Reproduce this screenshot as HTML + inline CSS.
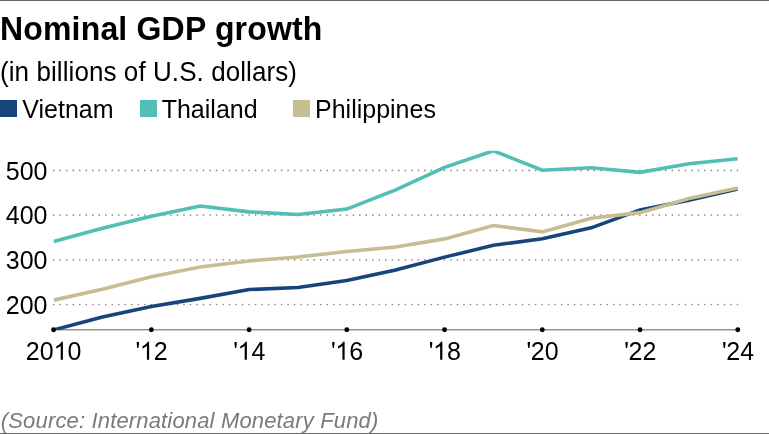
<!DOCTYPE html>
<html><head><meta charset="utf-8"><style>
html,body{margin:0;padding:0;background:#fff;}
body{width:769px;height:434px;overflow:hidden;position:relative;}
svg{position:absolute;left:0;top:0;will-change:transform;}
text{font-family:"Liberation Sans",sans-serif;}
</style></head><body>
<svg width="769" height="434" viewBox="0 0 769 434">
<defs><clipPath id="plot"><rect x="53.6" y="150.78" width="684.18" height="179.11"/></clipPath></defs>
<rect x="0" y="0" width="769" height="1" fill="#666666"/>
<rect x="0" y="433" width="769" height="1" fill="#666666"/>
<text transform="translate(0,40.2) scale(1,1.04)" x="0" y="0" text-anchor="start" style="font-size:32px;font-weight:bold;font-style:normal" fill="#000" textLength="322.4" lengthAdjust="spacing">Nominal GDP growth</text>

<text transform="translate(0,81.3) scale(1,1.04)" x="0" y="0" text-anchor="start" style="font-size:26px;font-weight:normal;font-style:normal" fill="#000" textLength="297" lengthAdjust="spacing">(in billions of U.S. dollars)</text>

<rect x="0" y="100" width="17" height="17" fill="#17457a"/>
<text transform="translate(22.3,118.3) scale(1,1.04)" x="0" y="0" text-anchor="start" style="font-size:25px;font-weight:normal;font-style:normal" fill="#000">Vietnam</text>

<rect x="140" y="100" width="17" height="17" fill="#52beb6"/>
<text transform="translate(161.7,118.3) scale(1,1.04)" x="0" y="0" text-anchor="start" style="font-size:25px;font-weight:normal;font-style:normal" fill="#000">Thailand</text>

<rect x="293" y="100" width="17" height="17" fill="#c6bd90"/>
<text transform="translate(315,118.3) scale(1,1.04)" x="0" y="0" text-anchor="start" style="font-size:25px;font-weight:normal;font-style:normal" fill="#000">Philippines</text>

<g fill="#8a8a8a">
<circle cx="53.70" cy="170.40" r="0.85"/><circle cx="60.21" cy="170.40" r="0.85"/><circle cx="66.72" cy="170.40" r="0.85"/><circle cx="73.24" cy="170.40" r="0.85"/><circle cx="79.75" cy="170.40" r="0.85"/><circle cx="86.26" cy="170.40" r="0.85"/><circle cx="92.77" cy="170.40" r="0.85"/><circle cx="99.29" cy="170.40" r="0.85"/><circle cx="105.80" cy="170.40" r="0.85"/><circle cx="112.31" cy="170.40" r="0.85"/><circle cx="118.82" cy="170.40" r="0.85"/><circle cx="125.34" cy="170.40" r="0.85"/><circle cx="131.85" cy="170.40" r="0.85"/><circle cx="138.36" cy="170.40" r="0.85"/><circle cx="144.87" cy="170.40" r="0.85"/><circle cx="151.39" cy="170.40" r="0.85"/><circle cx="157.90" cy="170.40" r="0.85"/><circle cx="164.41" cy="170.40" r="0.85"/><circle cx="170.92" cy="170.40" r="0.85"/><circle cx="177.44" cy="170.40" r="0.85"/><circle cx="183.95" cy="170.40" r="0.85"/><circle cx="190.46" cy="170.40" r="0.85"/><circle cx="196.97" cy="170.40" r="0.85"/><circle cx="203.48" cy="170.40" r="0.85"/><circle cx="210.00" cy="170.40" r="0.85"/><circle cx="216.51" cy="170.40" r="0.85"/><circle cx="223.02" cy="170.40" r="0.85"/><circle cx="229.53" cy="170.40" r="0.85"/><circle cx="236.05" cy="170.40" r="0.85"/><circle cx="242.56" cy="170.40" r="0.85"/><circle cx="249.07" cy="170.40" r="0.85"/><circle cx="255.58" cy="170.40" r="0.85"/><circle cx="262.10" cy="170.40" r="0.85"/><circle cx="268.61" cy="170.40" r="0.85"/><circle cx="275.12" cy="170.40" r="0.85"/><circle cx="281.63" cy="170.40" r="0.85"/><circle cx="288.15" cy="170.40" r="0.85"/><circle cx="294.66" cy="170.40" r="0.85"/><circle cx="301.17" cy="170.40" r="0.85"/><circle cx="307.68" cy="170.40" r="0.85"/><circle cx="314.20" cy="170.40" r="0.85"/><circle cx="320.71" cy="170.40" r="0.85"/><circle cx="327.22" cy="170.40" r="0.85"/><circle cx="333.73" cy="170.40" r="0.85"/><circle cx="340.24" cy="170.40" r="0.85"/><circle cx="346.76" cy="170.40" r="0.85"/><circle cx="353.27" cy="170.40" r="0.85"/><circle cx="359.78" cy="170.40" r="0.85"/><circle cx="366.29" cy="170.40" r="0.85"/><circle cx="372.81" cy="170.40" r="0.85"/><circle cx="379.32" cy="170.40" r="0.85"/><circle cx="385.83" cy="170.40" r="0.85"/><circle cx="392.34" cy="170.40" r="0.85"/><circle cx="398.86" cy="170.40" r="0.85"/><circle cx="405.37" cy="170.40" r="0.85"/><circle cx="411.88" cy="170.40" r="0.85"/><circle cx="418.39" cy="170.40" r="0.85"/><circle cx="424.91" cy="170.40" r="0.85"/><circle cx="431.42" cy="170.40" r="0.85"/><circle cx="437.93" cy="170.40" r="0.85"/><circle cx="444.44" cy="170.40" r="0.85"/><circle cx="450.96" cy="170.40" r="0.85"/><circle cx="457.47" cy="170.40" r="0.85"/><circle cx="463.98" cy="170.40" r="0.85"/><circle cx="470.49" cy="170.40" r="0.85"/><circle cx="477.00" cy="170.40" r="0.85"/><circle cx="483.52" cy="170.40" r="0.85"/><circle cx="490.03" cy="170.40" r="0.85"/><circle cx="496.54" cy="170.40" r="0.85"/><circle cx="503.05" cy="170.40" r="0.85"/><circle cx="509.57" cy="170.40" r="0.85"/><circle cx="516.08" cy="170.40" r="0.85"/><circle cx="522.59" cy="170.40" r="0.85"/><circle cx="529.10" cy="170.40" r="0.85"/><circle cx="535.62" cy="170.40" r="0.85"/><circle cx="542.13" cy="170.40" r="0.85"/><circle cx="548.64" cy="170.40" r="0.85"/><circle cx="555.15" cy="170.40" r="0.85"/><circle cx="561.67" cy="170.40" r="0.85"/><circle cx="568.18" cy="170.40" r="0.85"/><circle cx="574.69" cy="170.40" r="0.85"/><circle cx="581.20" cy="170.40" r="0.85"/><circle cx="587.72" cy="170.40" r="0.85"/><circle cx="594.23" cy="170.40" r="0.85"/><circle cx="600.74" cy="170.40" r="0.85"/><circle cx="607.25" cy="170.40" r="0.85"/><circle cx="613.76" cy="170.40" r="0.85"/><circle cx="620.28" cy="170.40" r="0.85"/><circle cx="626.79" cy="170.40" r="0.85"/><circle cx="633.30" cy="170.40" r="0.85"/><circle cx="639.81" cy="170.40" r="0.85"/><circle cx="646.33" cy="170.40" r="0.85"/><circle cx="652.84" cy="170.40" r="0.85"/><circle cx="659.35" cy="170.40" r="0.85"/><circle cx="665.86" cy="170.40" r="0.85"/><circle cx="672.38" cy="170.40" r="0.85"/><circle cx="678.89" cy="170.40" r="0.85"/><circle cx="685.40" cy="170.40" r="0.85"/><circle cx="691.91" cy="170.40" r="0.85"/><circle cx="698.43" cy="170.40" r="0.85"/><circle cx="704.94" cy="170.40" r="0.85"/><circle cx="711.45" cy="170.40" r="0.85"/><circle cx="717.96" cy="170.40" r="0.85"/><circle cx="724.48" cy="170.40" r="0.85"/><circle cx="730.99" cy="170.40" r="0.85"/><circle cx="737.50" cy="170.40" r="0.85"/>
<circle cx="53.70" cy="215.10" r="0.85"/><circle cx="60.21" cy="215.10" r="0.85"/><circle cx="66.72" cy="215.10" r="0.85"/><circle cx="73.24" cy="215.10" r="0.85"/><circle cx="79.75" cy="215.10" r="0.85"/><circle cx="86.26" cy="215.10" r="0.85"/><circle cx="92.77" cy="215.10" r="0.85"/><circle cx="99.29" cy="215.10" r="0.85"/><circle cx="105.80" cy="215.10" r="0.85"/><circle cx="112.31" cy="215.10" r="0.85"/><circle cx="118.82" cy="215.10" r="0.85"/><circle cx="125.34" cy="215.10" r="0.85"/><circle cx="131.85" cy="215.10" r="0.85"/><circle cx="138.36" cy="215.10" r="0.85"/><circle cx="144.87" cy="215.10" r="0.85"/><circle cx="151.39" cy="215.10" r="0.85"/><circle cx="157.90" cy="215.10" r="0.85"/><circle cx="164.41" cy="215.10" r="0.85"/><circle cx="170.92" cy="215.10" r="0.85"/><circle cx="177.44" cy="215.10" r="0.85"/><circle cx="183.95" cy="215.10" r="0.85"/><circle cx="190.46" cy="215.10" r="0.85"/><circle cx="196.97" cy="215.10" r="0.85"/><circle cx="203.48" cy="215.10" r="0.85"/><circle cx="210.00" cy="215.10" r="0.85"/><circle cx="216.51" cy="215.10" r="0.85"/><circle cx="223.02" cy="215.10" r="0.85"/><circle cx="229.53" cy="215.10" r="0.85"/><circle cx="236.05" cy="215.10" r="0.85"/><circle cx="242.56" cy="215.10" r="0.85"/><circle cx="249.07" cy="215.10" r="0.85"/><circle cx="255.58" cy="215.10" r="0.85"/><circle cx="262.10" cy="215.10" r="0.85"/><circle cx="268.61" cy="215.10" r="0.85"/><circle cx="275.12" cy="215.10" r="0.85"/><circle cx="281.63" cy="215.10" r="0.85"/><circle cx="288.15" cy="215.10" r="0.85"/><circle cx="294.66" cy="215.10" r="0.85"/><circle cx="301.17" cy="215.10" r="0.85"/><circle cx="307.68" cy="215.10" r="0.85"/><circle cx="314.20" cy="215.10" r="0.85"/><circle cx="320.71" cy="215.10" r="0.85"/><circle cx="327.22" cy="215.10" r="0.85"/><circle cx="333.73" cy="215.10" r="0.85"/><circle cx="340.24" cy="215.10" r="0.85"/><circle cx="346.76" cy="215.10" r="0.85"/><circle cx="353.27" cy="215.10" r="0.85"/><circle cx="359.78" cy="215.10" r="0.85"/><circle cx="366.29" cy="215.10" r="0.85"/><circle cx="372.81" cy="215.10" r="0.85"/><circle cx="379.32" cy="215.10" r="0.85"/><circle cx="385.83" cy="215.10" r="0.85"/><circle cx="392.34" cy="215.10" r="0.85"/><circle cx="398.86" cy="215.10" r="0.85"/><circle cx="405.37" cy="215.10" r="0.85"/><circle cx="411.88" cy="215.10" r="0.85"/><circle cx="418.39" cy="215.10" r="0.85"/><circle cx="424.91" cy="215.10" r="0.85"/><circle cx="431.42" cy="215.10" r="0.85"/><circle cx="437.93" cy="215.10" r="0.85"/><circle cx="444.44" cy="215.10" r="0.85"/><circle cx="450.96" cy="215.10" r="0.85"/><circle cx="457.47" cy="215.10" r="0.85"/><circle cx="463.98" cy="215.10" r="0.85"/><circle cx="470.49" cy="215.10" r="0.85"/><circle cx="477.00" cy="215.10" r="0.85"/><circle cx="483.52" cy="215.10" r="0.85"/><circle cx="490.03" cy="215.10" r="0.85"/><circle cx="496.54" cy="215.10" r="0.85"/><circle cx="503.05" cy="215.10" r="0.85"/><circle cx="509.57" cy="215.10" r="0.85"/><circle cx="516.08" cy="215.10" r="0.85"/><circle cx="522.59" cy="215.10" r="0.85"/><circle cx="529.10" cy="215.10" r="0.85"/><circle cx="535.62" cy="215.10" r="0.85"/><circle cx="542.13" cy="215.10" r="0.85"/><circle cx="548.64" cy="215.10" r="0.85"/><circle cx="555.15" cy="215.10" r="0.85"/><circle cx="561.67" cy="215.10" r="0.85"/><circle cx="568.18" cy="215.10" r="0.85"/><circle cx="574.69" cy="215.10" r="0.85"/><circle cx="581.20" cy="215.10" r="0.85"/><circle cx="587.72" cy="215.10" r="0.85"/><circle cx="594.23" cy="215.10" r="0.85"/><circle cx="600.74" cy="215.10" r="0.85"/><circle cx="607.25" cy="215.10" r="0.85"/><circle cx="613.76" cy="215.10" r="0.85"/><circle cx="620.28" cy="215.10" r="0.85"/><circle cx="626.79" cy="215.10" r="0.85"/><circle cx="633.30" cy="215.10" r="0.85"/><circle cx="639.81" cy="215.10" r="0.85"/><circle cx="646.33" cy="215.10" r="0.85"/><circle cx="652.84" cy="215.10" r="0.85"/><circle cx="659.35" cy="215.10" r="0.85"/><circle cx="665.86" cy="215.10" r="0.85"/><circle cx="672.38" cy="215.10" r="0.85"/><circle cx="678.89" cy="215.10" r="0.85"/><circle cx="685.40" cy="215.10" r="0.85"/><circle cx="691.91" cy="215.10" r="0.85"/><circle cx="698.43" cy="215.10" r="0.85"/><circle cx="704.94" cy="215.10" r="0.85"/><circle cx="711.45" cy="215.10" r="0.85"/><circle cx="717.96" cy="215.10" r="0.85"/><circle cx="724.48" cy="215.10" r="0.85"/><circle cx="730.99" cy="215.10" r="0.85"/><circle cx="737.50" cy="215.10" r="0.85"/>
<circle cx="53.70" cy="259.80" r="0.85"/><circle cx="60.21" cy="259.80" r="0.85"/><circle cx="66.72" cy="259.80" r="0.85"/><circle cx="73.24" cy="259.80" r="0.85"/><circle cx="79.75" cy="259.80" r="0.85"/><circle cx="86.26" cy="259.80" r="0.85"/><circle cx="92.77" cy="259.80" r="0.85"/><circle cx="99.29" cy="259.80" r="0.85"/><circle cx="105.80" cy="259.80" r="0.85"/><circle cx="112.31" cy="259.80" r="0.85"/><circle cx="118.82" cy="259.80" r="0.85"/><circle cx="125.34" cy="259.80" r="0.85"/><circle cx="131.85" cy="259.80" r="0.85"/><circle cx="138.36" cy="259.80" r="0.85"/><circle cx="144.87" cy="259.80" r="0.85"/><circle cx="151.39" cy="259.80" r="0.85"/><circle cx="157.90" cy="259.80" r="0.85"/><circle cx="164.41" cy="259.80" r="0.85"/><circle cx="170.92" cy="259.80" r="0.85"/><circle cx="177.44" cy="259.80" r="0.85"/><circle cx="183.95" cy="259.80" r="0.85"/><circle cx="190.46" cy="259.80" r="0.85"/><circle cx="196.97" cy="259.80" r="0.85"/><circle cx="203.48" cy="259.80" r="0.85"/><circle cx="210.00" cy="259.80" r="0.85"/><circle cx="216.51" cy="259.80" r="0.85"/><circle cx="223.02" cy="259.80" r="0.85"/><circle cx="229.53" cy="259.80" r="0.85"/><circle cx="236.05" cy="259.80" r="0.85"/><circle cx="242.56" cy="259.80" r="0.85"/><circle cx="249.07" cy="259.80" r="0.85"/><circle cx="255.58" cy="259.80" r="0.85"/><circle cx="262.10" cy="259.80" r="0.85"/><circle cx="268.61" cy="259.80" r="0.85"/><circle cx="275.12" cy="259.80" r="0.85"/><circle cx="281.63" cy="259.80" r="0.85"/><circle cx="288.15" cy="259.80" r="0.85"/><circle cx="294.66" cy="259.80" r="0.85"/><circle cx="301.17" cy="259.80" r="0.85"/><circle cx="307.68" cy="259.80" r="0.85"/><circle cx="314.20" cy="259.80" r="0.85"/><circle cx="320.71" cy="259.80" r="0.85"/><circle cx="327.22" cy="259.80" r="0.85"/><circle cx="333.73" cy="259.80" r="0.85"/><circle cx="340.24" cy="259.80" r="0.85"/><circle cx="346.76" cy="259.80" r="0.85"/><circle cx="353.27" cy="259.80" r="0.85"/><circle cx="359.78" cy="259.80" r="0.85"/><circle cx="366.29" cy="259.80" r="0.85"/><circle cx="372.81" cy="259.80" r="0.85"/><circle cx="379.32" cy="259.80" r="0.85"/><circle cx="385.83" cy="259.80" r="0.85"/><circle cx="392.34" cy="259.80" r="0.85"/><circle cx="398.86" cy="259.80" r="0.85"/><circle cx="405.37" cy="259.80" r="0.85"/><circle cx="411.88" cy="259.80" r="0.85"/><circle cx="418.39" cy="259.80" r="0.85"/><circle cx="424.91" cy="259.80" r="0.85"/><circle cx="431.42" cy="259.80" r="0.85"/><circle cx="437.93" cy="259.80" r="0.85"/><circle cx="444.44" cy="259.80" r="0.85"/><circle cx="450.96" cy="259.80" r="0.85"/><circle cx="457.47" cy="259.80" r="0.85"/><circle cx="463.98" cy="259.80" r="0.85"/><circle cx="470.49" cy="259.80" r="0.85"/><circle cx="477.00" cy="259.80" r="0.85"/><circle cx="483.52" cy="259.80" r="0.85"/><circle cx="490.03" cy="259.80" r="0.85"/><circle cx="496.54" cy="259.80" r="0.85"/><circle cx="503.05" cy="259.80" r="0.85"/><circle cx="509.57" cy="259.80" r="0.85"/><circle cx="516.08" cy="259.80" r="0.85"/><circle cx="522.59" cy="259.80" r="0.85"/><circle cx="529.10" cy="259.80" r="0.85"/><circle cx="535.62" cy="259.80" r="0.85"/><circle cx="542.13" cy="259.80" r="0.85"/><circle cx="548.64" cy="259.80" r="0.85"/><circle cx="555.15" cy="259.80" r="0.85"/><circle cx="561.67" cy="259.80" r="0.85"/><circle cx="568.18" cy="259.80" r="0.85"/><circle cx="574.69" cy="259.80" r="0.85"/><circle cx="581.20" cy="259.80" r="0.85"/><circle cx="587.72" cy="259.80" r="0.85"/><circle cx="594.23" cy="259.80" r="0.85"/><circle cx="600.74" cy="259.80" r="0.85"/><circle cx="607.25" cy="259.80" r="0.85"/><circle cx="613.76" cy="259.80" r="0.85"/><circle cx="620.28" cy="259.80" r="0.85"/><circle cx="626.79" cy="259.80" r="0.85"/><circle cx="633.30" cy="259.80" r="0.85"/><circle cx="639.81" cy="259.80" r="0.85"/><circle cx="646.33" cy="259.80" r="0.85"/><circle cx="652.84" cy="259.80" r="0.85"/><circle cx="659.35" cy="259.80" r="0.85"/><circle cx="665.86" cy="259.80" r="0.85"/><circle cx="672.38" cy="259.80" r="0.85"/><circle cx="678.89" cy="259.80" r="0.85"/><circle cx="685.40" cy="259.80" r="0.85"/><circle cx="691.91" cy="259.80" r="0.85"/><circle cx="698.43" cy="259.80" r="0.85"/><circle cx="704.94" cy="259.80" r="0.85"/><circle cx="711.45" cy="259.80" r="0.85"/><circle cx="717.96" cy="259.80" r="0.85"/><circle cx="724.48" cy="259.80" r="0.85"/><circle cx="730.99" cy="259.80" r="0.85"/><circle cx="737.50" cy="259.80" r="0.85"/>
<circle cx="53.70" cy="304.50" r="0.85"/><circle cx="60.21" cy="304.50" r="0.85"/><circle cx="66.72" cy="304.50" r="0.85"/><circle cx="73.24" cy="304.50" r="0.85"/><circle cx="79.75" cy="304.50" r="0.85"/><circle cx="86.26" cy="304.50" r="0.85"/><circle cx="92.77" cy="304.50" r="0.85"/><circle cx="99.29" cy="304.50" r="0.85"/><circle cx="105.80" cy="304.50" r="0.85"/><circle cx="112.31" cy="304.50" r="0.85"/><circle cx="118.82" cy="304.50" r="0.85"/><circle cx="125.34" cy="304.50" r="0.85"/><circle cx="131.85" cy="304.50" r="0.85"/><circle cx="138.36" cy="304.50" r="0.85"/><circle cx="144.87" cy="304.50" r="0.85"/><circle cx="151.39" cy="304.50" r="0.85"/><circle cx="157.90" cy="304.50" r="0.85"/><circle cx="164.41" cy="304.50" r="0.85"/><circle cx="170.92" cy="304.50" r="0.85"/><circle cx="177.44" cy="304.50" r="0.85"/><circle cx="183.95" cy="304.50" r="0.85"/><circle cx="190.46" cy="304.50" r="0.85"/><circle cx="196.97" cy="304.50" r="0.85"/><circle cx="203.48" cy="304.50" r="0.85"/><circle cx="210.00" cy="304.50" r="0.85"/><circle cx="216.51" cy="304.50" r="0.85"/><circle cx="223.02" cy="304.50" r="0.85"/><circle cx="229.53" cy="304.50" r="0.85"/><circle cx="236.05" cy="304.50" r="0.85"/><circle cx="242.56" cy="304.50" r="0.85"/><circle cx="249.07" cy="304.50" r="0.85"/><circle cx="255.58" cy="304.50" r="0.85"/><circle cx="262.10" cy="304.50" r="0.85"/><circle cx="268.61" cy="304.50" r="0.85"/><circle cx="275.12" cy="304.50" r="0.85"/><circle cx="281.63" cy="304.50" r="0.85"/><circle cx="288.15" cy="304.50" r="0.85"/><circle cx="294.66" cy="304.50" r="0.85"/><circle cx="301.17" cy="304.50" r="0.85"/><circle cx="307.68" cy="304.50" r="0.85"/><circle cx="314.20" cy="304.50" r="0.85"/><circle cx="320.71" cy="304.50" r="0.85"/><circle cx="327.22" cy="304.50" r="0.85"/><circle cx="333.73" cy="304.50" r="0.85"/><circle cx="340.24" cy="304.50" r="0.85"/><circle cx="346.76" cy="304.50" r="0.85"/><circle cx="353.27" cy="304.50" r="0.85"/><circle cx="359.78" cy="304.50" r="0.85"/><circle cx="366.29" cy="304.50" r="0.85"/><circle cx="372.81" cy="304.50" r="0.85"/><circle cx="379.32" cy="304.50" r="0.85"/><circle cx="385.83" cy="304.50" r="0.85"/><circle cx="392.34" cy="304.50" r="0.85"/><circle cx="398.86" cy="304.50" r="0.85"/><circle cx="405.37" cy="304.50" r="0.85"/><circle cx="411.88" cy="304.50" r="0.85"/><circle cx="418.39" cy="304.50" r="0.85"/><circle cx="424.91" cy="304.50" r="0.85"/><circle cx="431.42" cy="304.50" r="0.85"/><circle cx="437.93" cy="304.50" r="0.85"/><circle cx="444.44" cy="304.50" r="0.85"/><circle cx="450.96" cy="304.50" r="0.85"/><circle cx="457.47" cy="304.50" r="0.85"/><circle cx="463.98" cy="304.50" r="0.85"/><circle cx="470.49" cy="304.50" r="0.85"/><circle cx="477.00" cy="304.50" r="0.85"/><circle cx="483.52" cy="304.50" r="0.85"/><circle cx="490.03" cy="304.50" r="0.85"/><circle cx="496.54" cy="304.50" r="0.85"/><circle cx="503.05" cy="304.50" r="0.85"/><circle cx="509.57" cy="304.50" r="0.85"/><circle cx="516.08" cy="304.50" r="0.85"/><circle cx="522.59" cy="304.50" r="0.85"/><circle cx="529.10" cy="304.50" r="0.85"/><circle cx="535.62" cy="304.50" r="0.85"/><circle cx="542.13" cy="304.50" r="0.85"/><circle cx="548.64" cy="304.50" r="0.85"/><circle cx="555.15" cy="304.50" r="0.85"/><circle cx="561.67" cy="304.50" r="0.85"/><circle cx="568.18" cy="304.50" r="0.85"/><circle cx="574.69" cy="304.50" r="0.85"/><circle cx="581.20" cy="304.50" r="0.85"/><circle cx="587.72" cy="304.50" r="0.85"/><circle cx="594.23" cy="304.50" r="0.85"/><circle cx="600.74" cy="304.50" r="0.85"/><circle cx="607.25" cy="304.50" r="0.85"/><circle cx="613.76" cy="304.50" r="0.85"/><circle cx="620.28" cy="304.50" r="0.85"/><circle cx="626.79" cy="304.50" r="0.85"/><circle cx="633.30" cy="304.50" r="0.85"/><circle cx="639.81" cy="304.50" r="0.85"/><circle cx="646.33" cy="304.50" r="0.85"/><circle cx="652.84" cy="304.50" r="0.85"/><circle cx="659.35" cy="304.50" r="0.85"/><circle cx="665.86" cy="304.50" r="0.85"/><circle cx="672.38" cy="304.50" r="0.85"/><circle cx="678.89" cy="304.50" r="0.85"/><circle cx="685.40" cy="304.50" r="0.85"/><circle cx="691.91" cy="304.50" r="0.85"/><circle cx="698.43" cy="304.50" r="0.85"/><circle cx="704.94" cy="304.50" r="0.85"/><circle cx="711.45" cy="304.50" r="0.85"/><circle cx="717.96" cy="304.50" r="0.85"/><circle cx="724.48" cy="304.50" r="0.85"/><circle cx="730.99" cy="304.50" r="0.85"/><circle cx="737.50" cy="304.50" r="0.85"/>
</g>
<text transform="translate(47.5,179.6) scale(1,1.04)" x="0" y="0" text-anchor="end" style="font-size:25px;font-weight:normal;font-style:normal" fill="#000">500</text>
<text transform="translate(47.5,224.3) scale(1,1.04)" x="0" y="0" text-anchor="end" style="font-size:25px;font-weight:normal;font-style:normal" fill="#000">400</text>
<text transform="translate(47.5,269.0) scale(1,1.04)" x="0" y="0" text-anchor="end" style="font-size:25px;font-weight:normal;font-style:normal" fill="#000">300</text>
<text transform="translate(47.5,313.7) scale(1,1.04)" x="0" y="0" text-anchor="end" style="font-size:25px;font-weight:normal;font-style:normal" fill="#000">200</text>

<line x1="53.60" y1="329.8" x2="737.78" y2="329.8" stroke="#939393" stroke-width="1.4"/>
<g clip-path="url(#plot)" fill="none" stroke-width="3.6" stroke-linejoin="miter">
<polyline points="53.60,241.43 102.47,228.15 151.34,216.17 200.21,206.03 249.08,211.84 297.95,214.52 346.82,209.11 395.69,189.89 444.56,167.36 493.43,150.78 542.30,170.18 591.17,167.72 640.04,172.37 688.91,163.74 737.78,158.69" stroke="#52beb6"/>
<polyline points="53.60,329.89 102.47,317.11 151.34,306.47 200.21,298.38 249.08,289.53 297.95,287.51 346.82,280.50 395.69,269.99 444.56,257.12 493.43,245.27 542.30,238.70 591.17,227.84 640.04,209.91 688.91,200.30 737.78,189.00" stroke="#17457a"/>
<polyline points="53.60,300.12 102.47,289.21 151.34,276.83 200.21,267.00 249.08,260.92 297.95,256.94 346.82,251.49 395.69,247.06 444.56,238.88 493.43,225.47 542.30,231.86 591.17,218.23 640.04,212.64 688.91,198.43 737.78,187.92" stroke="#c6bd90"/>
</g>
<circle cx="53.60" cy="329.75" r="2.45" fill="#000"/>
<circle cx="151.34" cy="329.75" r="2.45" fill="#000"/>
<circle cx="249.08" cy="329.75" r="2.45" fill="#000"/>
<circle cx="346.82" cy="329.75" r="2.45" fill="#000"/>
<circle cx="444.56" cy="329.75" r="2.45" fill="#000"/>
<circle cx="542.30" cy="329.75" r="2.45" fill="#000"/>
<circle cx="640.04" cy="329.75" r="2.45" fill="#000"/>
<circle cx="737.78" cy="329.75" r="2.45" fill="#000"/>

<text transform="translate(25.79,359.6) scale(1,1.04)" x="0" y="0" text-anchor="start" style="font-size:25px;font-weight:normal;font-style:normal" fill="#000">2</text>
<text transform="translate(39.7,359.6) scale(1,1.04)" x="0" y="0" text-anchor="start" style="font-size:25px;font-weight:normal;font-style:normal" fill="#000">0</text>
<text transform="translate(67.5,359.6) scale(1,1.04)" x="0" y="0" text-anchor="start" style="font-size:25px;font-weight:normal;font-style:normal" fill="#000">0</text>
<path d="M62.91,359.80 L60.72,359.80 L60.72,345.80 L60.19,346.30 L59.46,346.81 L58.63,347.31 L57.75,347.81 L56.96,348.18 L56.30,348.45 L56.30,346.32 L57.26,345.86 L58.14,345.33 L58.91,344.76 L59.52,344.22 L60.19,343.56 L60.80,342.83 L61.23,342.22 L61.47,341.83 L62.91,341.83 Z" fill="#000"/>
<text transform="translate(153.73,359.6) scale(1,1.04)" x="0" y="0" text-anchor="start" style="font-size:25px;font-weight:normal;font-style:normal" fill="#000">2</text>
<path d="M136.73,341.90 L139.01,341.90 L139.01,343.80 L138.49,348.08 L137.26,348.08 L136.73,343.80 Z M149.14,359.80 L146.94,359.80 L146.94,345.80 L146.41,346.30 L145.68,346.81 L144.85,347.31 L143.97,347.81 L143.18,348.18 L142.52,348.45 L142.52,346.32 L143.48,345.86 L144.36,345.33 L145.13,344.76 L145.74,344.22 L146.41,343.56 L147.02,342.83 L147.45,342.22 L147.70,341.83 L149.14,341.83 Z" fill="#000"/>
<text transform="translate(251.47,359.6) scale(1,1.04)" x="0" y="0" text-anchor="start" style="font-size:25px;font-weight:normal;font-style:normal" fill="#000">4</text>
<path d="M234.47,341.90 L236.75,341.90 L236.75,343.80 L236.23,348.08 L235.00,348.08 L234.47,343.80 Z M246.88,359.80 L244.68,359.80 L244.68,345.80 L244.15,346.30 L243.42,346.81 L242.59,347.31 L241.71,347.81 L240.92,348.18 L240.26,348.45 L240.26,346.32 L241.22,345.86 L242.10,345.33 L242.87,344.76 L243.48,344.22 L244.15,343.56 L244.76,342.83 L245.19,342.22 L245.44,341.83 L246.88,341.83 Z" fill="#000"/>
<text transform="translate(349.21,359.6) scale(1,1.04)" x="0" y="0" text-anchor="start" style="font-size:25px;font-weight:normal;font-style:normal" fill="#000">6</text>
<path d="M332.21,341.90 L334.49,341.90 L334.49,343.80 L333.97,348.08 L332.74,348.08 L332.21,343.80 Z M344.62,359.80 L342.42,359.80 L342.42,345.80 L341.89,346.30 L341.16,346.81 L340.33,347.31 L339.45,347.81 L338.66,348.18 L338.00,348.45 L338.00,346.32 L338.96,345.86 L339.84,345.33 L340.61,344.76 L341.22,344.22 L341.89,343.56 L342.50,342.83 L342.93,342.22 L343.18,341.83 L344.62,341.83 Z" fill="#000"/>
<text transform="translate(446.95,359.6) scale(1,1.04)" x="0" y="0" text-anchor="start" style="font-size:25px;font-weight:normal;font-style:normal" fill="#000">8</text>
<path d="M429.95,341.90 L432.23,341.90 L432.23,343.80 L431.71,348.08 L430.48,348.08 L429.95,343.80 Z M442.36,359.80 L440.16,359.80 L440.16,345.80 L439.63,346.30 L438.90,346.81 L438.07,347.31 L437.19,347.81 L436.40,348.18 L435.74,348.45 L435.74,346.32 L436.70,345.86 L437.58,345.33 L438.35,344.76 L438.96,344.22 L439.63,343.56 L440.24,342.83 L440.67,342.22 L440.92,341.83 L442.36,341.83 Z" fill="#000"/>
<text transform="translate(530.78,359.6) scale(1,1.04)" x="0" y="0" text-anchor="start" style="font-size:25px;font-weight:normal;font-style:normal" fill="#000">2</text>
<text transform="translate(544.69,359.6) scale(1,1.04)" x="0" y="0" text-anchor="start" style="font-size:25px;font-weight:normal;font-style:normal" fill="#000">0</text>
<path d="M527.69,341.90 L529.97,341.90 L529.97,343.80 L529.45,348.08 L528.22,348.08 L527.69,343.80 Z" fill="#000"/>
<text transform="translate(628.52,359.6) scale(1,1.04)" x="0" y="0" text-anchor="start" style="font-size:25px;font-weight:normal;font-style:normal" fill="#000">2</text>
<text transform="translate(642.43,359.6) scale(1,1.04)" x="0" y="0" text-anchor="start" style="font-size:25px;font-weight:normal;font-style:normal" fill="#000">2</text>
<path d="M625.43,341.90 L627.71,341.90 L627.71,343.80 L627.19,348.08 L625.96,348.08 L625.43,343.80 Z" fill="#000"/>
<text transform="translate(726.26,359.6) scale(1,1.04)" x="0" y="0" text-anchor="start" style="font-size:25px;font-weight:normal;font-style:normal" fill="#000">2</text>
<text transform="translate(740.17,359.6) scale(1,1.04)" x="0" y="0" text-anchor="start" style="font-size:25px;font-weight:normal;font-style:normal" fill="#000">4</text>
<path d="M723.17,341.90 L725.45,341.90 L725.45,343.80 L724.93,348.08 L723.70,348.08 L723.17,343.80 Z" fill="#000"/>

<text transform="translate(0.8,428.2) scale(1,1.04)" x="0" y="0" text-anchor="start" style="font-size:22px;font-weight:normal;font-style:italic" fill="#7a7a7a" textLength="377.5" lengthAdjust="spacing">(Source: International Monetary Fund)</text>

</svg>
</body></html>
